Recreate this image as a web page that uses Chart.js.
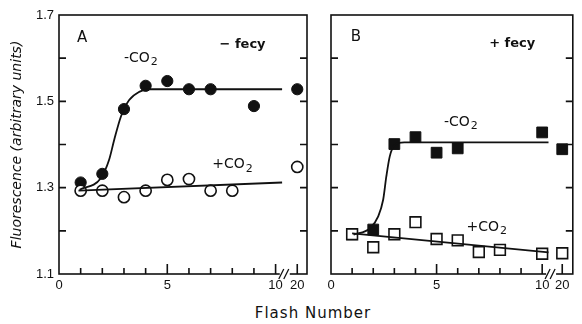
<!DOCTYPE html>
<html>
<head>
<meta charset="utf-8">
<script src="https://cdn.jsdelivr.net/npm/chart.js@4.4.1/dist/chart.umd.min.js"></script>
<style>
  body { margin: 0; background: #fff; width: 582px; height: 324px; overflow: hidden; position: relative; }
  #wrapA { position: absolute; left: 0; top: 0; width: 316px; height: 300px; }
  #wrapB { position: absolute; left: 316px; top: 0; width: 266px; height: 300px; }
  #xtitle { position: absolute; left: 253px; width: 120px; top: 304px; text-align: center;
            font: 15px "DejaVu Sans", sans-serif; letter-spacing: 1px; color: #111; }
</style>
</head>
<body>
<div id="wrapA"><canvas id="chartA"></canvas></div>
<div id="wrapB"><canvas id="chartB"></canvas></div>
<div id="xtitle">Flash Number</div>
<script>
// axis ticks
const flashTicks = [0, 1, 2, 3, 4, 5, 6, 7, 8, 9, 10, 20];
const flashLabels = { 0: '0', 5: '5', 10: '10', 20: '20' };
const fluorTicks = [1.1, 1.2, 1.3, 1.4, 1.5, 1.6, 1.7];
const fluorLabels = { 1.1: '1.1', 1.3: '1.3', 1.5: '1.5', 1.7: '1.7' };

// panel A, - fecy
const flashA_minus = [1, 2, 3, 4, 5, 6, 7, 9, 20];
const fluorA_minus = [1.312, 1.332, 1.482, 1.536, 1.547, 1.528, 1.528, 1.489, 1.528];
const flashA_plus = [1, 2, 3, 4, 5, 6, 7, 8, 20];
const fluorA_plus = [1.293, 1.293, 1.278, 1.293, 1.318, 1.320, 1.293, 1.293, 1.348];
// fitted curves
const fitA_minus_x = [0.95, 1.93, 2.31, 2.55, 2.86, 3.24, 3.7, 4.17, 10.3];
const fitA_minus_y = [1.295, 1.322, 1.364, 1.411, 1.465, 1.503, 1.522, 1.528, 1.528];
const fitA_plus_x = [0.9, 10.3];
const fitA_plus_y = [1.293, 1.312];

// panel B, + fecy
const flashB_minus = [1, 2, 3, 4, 5, 6, 10, 20];
const fluorB_minus = [1.192, 1.203, 1.401, 1.417, 1.381, 1.391, 1.428, 1.389];
const flashB_plus = [1, 2, 3, 4, 5, 6, 7, 8, 10, 20];
const fluorB_plus = [1.192, 1.162, 1.192, 1.220, 1.181, 1.178, 1.151, 1.156, 1.147, 1.148];
const fitB_minus_x = [1.07, 1.85, 2.23, 2.47, 2.62, 2.78, 3.01, 3.47, 10.3];
const fitB_minus_y = [1.191, 1.206, 1.233, 1.272, 1.326, 1.372, 1.399, 1.405, 1.405];
const fitB_plus_x = [1.0, 10.3];
const fitB_plus_y = [1.194, 1.150];

const ink = '#111';

// flash 20 sits just past the axis break
function pos(f, at20) { return f === 20 ? at20 : f; }
function pts(xs, ys, at20) { return xs.map((f, i) => ({ x: pos(f, at20), y: ys[i] })); }

const frame = {
  id: 'frame',
  beforeDatasetsDraw(chart, args, opts) {
    const { ctx, chartArea: a, scales: { x, y } } = chart;
    ctx.save();
    ctx.strokeStyle = ink;
    ctx.lineWidth = 1.6;
    ctx.strokeRect(a.left, a.top, a.right - a.left, a.bottom - a.top);
    ctx.beginPath();
    fluorTicks.forEach(v => {
      const py = y.getPixelForValue(v);
      if (py <= a.top + 1 || py >= a.bottom - 1) return;
      ctx.moveTo(a.left, py); ctx.lineTo(a.left + 7, py);
      ctx.moveTo(a.right, py); ctx.lineTo(a.right - 7, py);
    });
    flashTicks.forEach(f => {
      if (f === 0) return;
      const px = x.getPixelForValue(pos(f, opts.at20));
      const len = f % 5 === 0 ? 10 : 6;
      ctx.moveTo(px, a.bottom); ctx.lineTo(px, a.bottom - len);
    });
    ctx.stroke();
    // axis break
    const bx = x.getPixelForValue(opts.gap);
    ctx.fillStyle = '#fff';
    ctx.fillRect(bx - 6, a.bottom - 2, 10, 4);
    ctx.lineWidth = 1.3;
    ctx.beginPath();
    ctx.moveTo(bx - 7, a.bottom + 5); ctx.lineTo(bx - 2, a.bottom - 5);
    ctx.moveTo(bx - 2, a.bottom + 5); ctx.lineTo(bx + 3, a.bottom - 5);
    ctx.stroke();
    ctx.restore();
  },
  afterDraw(chart, args, opts) {
    const { ctx, scales: { x, y } } = chart;
    ctx.save();
    ctx.fillStyle = ink;
    ctx.textBaseline = 'middle';
    ctx.textAlign = 'left';
    (opts.notes || []).forEach(n => {
      const px = x.getPixelForValue(n.x);
      const py = y.getPixelForValue(n.y);
      ctx.font = n.font;
      ctx.fillText(n.text, px, py);
      if (n.sub) {
        const w = ctx.measureText(n.text).width;
        ctx.font = n.subFont;
        ctx.fillText(n.sub, px + w + 1, py + 4);
      }
    });
    ctx.restore();
  }
};

function makeChart(id, p) {
  return new Chart(document.getElementById(id), {
    type: 'scatter',
    data: {
      datasets: [
        { type: 'line', data: pts(p.fitMx, p.fitMy, p.at20), borderColor: ink, borderWidth: 1.8,
          pointRadius: 0, cubicInterpolationMode: 'monotone', fill: false },
        { type: 'line', data: pts(p.fitPx, p.fitPy, p.at20), borderColor: ink, borderWidth: 1.8,
          pointRadius: 0, fill: false },
        { data: pts(p.plusX, p.plusY, p.at20), pointStyle: p.shape, pointRadius: p.radius,
          backgroundColor: '#fff', borderColor: ink, borderWidth: 1.6 },
        { data: pts(p.minusX, p.minusY, p.at20), pointStyle: p.shape, pointRadius: p.radius,
          backgroundColor: ink, borderColor: ink, borderWidth: 1 }
      ]
    },
    options: {
      responsive: true,
      maintainAspectRatio: false,
      animation: false,
      events: [],
      layout: { padding: { top: 15, right: p.padRight, left: 0, bottom: 0 } },
      plugins: {
        legend: { display: false },
        tooltip: { enabled: false },
        frame: { at20: p.at20, gap: 10.47, notes: p.notes }
      },
      scales: {
        x: {
          type: 'linear', min: 0, max: 11.45,
          grid: { display: false, drawTicks: false },
          border: { display: false },
          afterBuildTicks: s => { s.ticks = flashTicks.map(f => ({ value: pos(f, p.at20) })); },
          afterFit: s => { s.height = 26; },
          ticks: {
            autoSkip: false, maxRotation: 0, padding: 4, color: ink,
            font: { family: 'Liberation Sans', size: 13 },
            callback: (v, i) => flashLabels[flashTicks[i]] || ''
          }
        },
        y: {
          min: 1.1, max: 1.7,
          grid: { display: false, drawTicks: false },
          border: { display: false },
          afterBuildTicks: s => { s.ticks = fluorTicks.map(v => ({ value: v })); },
          afterFit: s => { s.width = p.yWidth; },
          ticks: {
            display: p.yLabels, autoSkip: false, padding: 5, color: ink,
            font: { family: 'Liberation Sans', size: 13 },
            callback: (v, i) => fluorLabels[fluorTicks[i]] || ''
          },
          title: {
            display: p.yLabels, text: 'Fluorescence (arbitrary units)', color: ink,
            padding: { top: 9, bottom: 0 },
            font: { family: 'DejaVu Sans', size: 14, style: 'italic' }
          }
        }
      }
    },
    plugins: [frame]
  });
}

const fBig = '15px "DejaVu Sans"';
const fLab = '14px "DejaVu Sans"';
const fSub = '11px "DejaVu Sans"';
const fBold = 'bold 13px "DejaVu Sans"';

makeChart('chartA', {
  at20: 11, padRight: 9, yWidth: 59, yLabels: true, shape: 'circle', radius: 5.6,
  minusX: flashA_minus, minusY: fluorA_minus, plusX: flashA_plus, plusY: fluorA_plus,
  fitMx: fitA_minus_x, fitMy: fitA_minus_y, fitPx: fitA_plus_x, fitPy: fitA_plus_y,
  notes: [
    { text: 'A', x: 0.83, y: 1.647, font: fBig },
    { text: '\u2212 fecy', x: 7.41, y: 1.631, font: fBold },
    { text: '-CO', sub: '2', x: 3.0, y: 1.600, font: fLab, subFont: fSub },
    { text: '+CO', sub: '2', x: 7.08, y: 1.353, font: fLab, subFont: fSub }
  ]
});

makeChart('chartB', {
  at20: 10.95, padRight: 5, yWidth: 15, yLabels: false, shape: 'rect', radius: 7.6,
  minusX: flashB_minus, minusY: fluorB_minus, plusX: flashB_plus, plusY: fluorB_plus,
  fitMx: fitB_minus_x, fitMy: fitB_minus_y, fitPx: fitB_plus_x, fitPy: fitB_plus_y,
  notes: [
    { text: 'B', x: 0.93, y: 1.649, font: fBig },
    { text: '+ fecy', x: 7.49, y: 1.633, font: fBold },
    { text: '-CO', sub: '2', x: 5.35, y: 1.452, font: fLab, subFont: fSub },
    { text: '+CO', sub: '2', x: 6.42, y: 1.209, font: fLab, subFont: fSub }
  ]
});
</script>
</body>
</html>
